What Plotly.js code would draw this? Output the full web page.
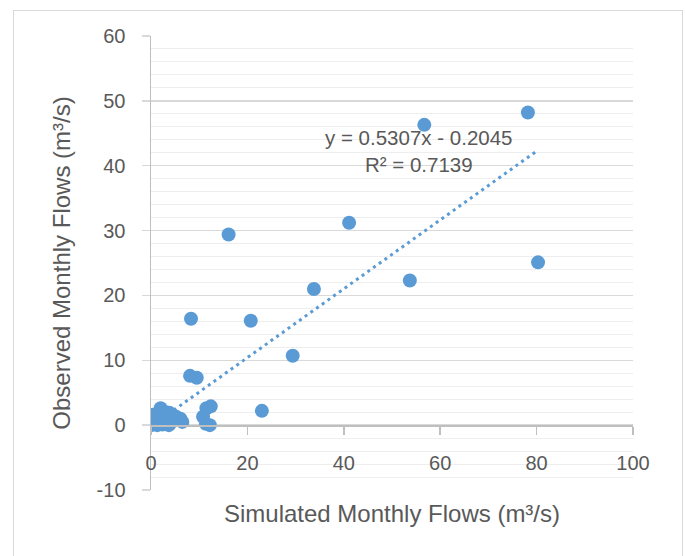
<!DOCTYPE html>
<html><head><meta charset="utf-8">
<script src="https://cdn.plot.ly/plotly-3.0.1.min.js"></script>
<style>
html,body{margin:0;padding:0;background:#fff;}
#frame{position:absolute;left:13px;top:10px;width:670px;height:580px;border:1.5px solid #d9d9d9;box-sizing:border-box;pointer-events:none;}
</style>
</head><body>
<div id="chart" style="position:absolute;left:0;top:0;width:685px;height:556px;"></div>
<div id="frame"></div>
<script>
// Simulated (x) and observed (y) monthly flows, m3/s
const simulated = [0.0, 0.2, 0.5, 0.4, 1.0, 1.3, 1.6, 2.0, 1.8, 2.6, 2.9, 3.1, 3.8, 3.7, 4.3, 4.6, 5.2, 6.1, 6.5, 2.4,
                   10.8, 11.5, 12.4, 11.4, 12.2, 8.1, 9.5, 8.3, 20.7, 29.4, 23.0, 16.1, 41.1, 33.8, 53.7, 56.7, 78.2, 80.3];
const observed  = [0.0, 0.1, 0.4, 1.6, 0.9, 0.0, 0.3, 2.6, 1.9, 1.3, 0.5, 2.0, 1.9, 0.0, 0.5, 1.5, 1.3, 1.0, 0.5, 0.1,
                   1.3, 2.6, 2.9, 0.2, 0.0, 7.6, 7.3, 16.4, 16.1, 10.7, 2.2, 29.4, 31.2, 21.0, 22.3, 46.3, 48.2, 25.1];
const slope = 0.5307;
const intercept = -0.2045;
const rSquared = 0.7139;
const xTicks = [0, 20, 40, 60, 80, 100];
const yTicks = [-10, 0, 10, 20, 30, 40, 50, 60];

const fontFam = '"Liberation Sans", Arial, sans-serif';
const txtColor = '#595959';
const blue = '#5b9bd5';

const xMin = Math.min(...simulated), xMax = Math.max(...simulated);
const trendX = [xMin, xMax];
const trendY = trendX.map(v => slope * v + intercept);

const traces = [
  {x: simulated, y: observed, type: 'scatter', mode: 'markers',
   marker: {color: blue, size: 14, line: {width: 0}}, hoverinfo: 'skip'},
  {x: trendX, y: trendY, type: 'scatter', mode: 'lines',
   line: {color: blue, width: 3, dash: '3px,4px'}, hoverinfo: 'skip'}
];

const layout = {
  width: 685, height: 556,
  margin: {l: 151, r: 52, t: 36, b: 66},
  paper_bgcolor: '#fff', plot_bgcolor: '#fff',
  showlegend: false,
  font: {family: fontFam, color: txtColor},
  xaxis: {
    range: [0, 100], tickvals: xTicks, ticktext: xTicks.map(String),
    anchor: 'free', position: 1 / 7,
    showline: true, linecolor: '#bfbfbf', linewidth: 1.5,
    ticks: 'outside', ticklen: 8, tickcolor: '#bfbfbf', tickwidth: 1.5,
    showgrid: false, zeroline: false,
    tickfont: {size: 20, color: txtColor, family: fontFam},
    ticklabelstandoff: 11,
    title: {text: 'Simulated Monthly Flows (m³/s)', font: {size: 24, color: txtColor, family: fontFam}, standoff: 32}
  },
  yaxis: {
    range: [-10, 60], tickvals: yTicks, ticktext: yTicks.map(String),
    showline: true, linecolor: '#bfbfbf', linewidth: 1.5,
    ticks: 'outside', ticklen: 8, tickcolor: '#d9d9d9', tickwidth: 1.5,
    showgrid: true, gridcolor: '#d9d9d9', gridwidth: 1.5, zeroline: false,
    minor: {dtick: 2, showgrid: true, gridcolor: '#eeeeee', gridwidth: 1, ticks: ''},
    tickfont: {size: 20, color: txtColor, family: fontFam},
    ticklabelstandoff: 12,
    title: {text: 'Observed Monthly Flows (m³/s)', font: {size: 24, color: txtColor, family: fontFam}, standoff: 19}
  },
  annotations: [{
    x: 55.6, y: 42.3, xref: 'x', yref: 'y', showarrow: false, align: 'center',
    text: 'y = ' + slope.toFixed(4) + 'x - ' + Math.abs(intercept).toFixed(4) + '<br>R² = ' + rSquared.toFixed(4),
    font: {size: 20.5, color: txtColor, family: fontFam}
  }]
};

Plotly.newPlot('chart', traces, layout, {displayModeBar: false, staticPlot: true});
</script>
</body></html>
